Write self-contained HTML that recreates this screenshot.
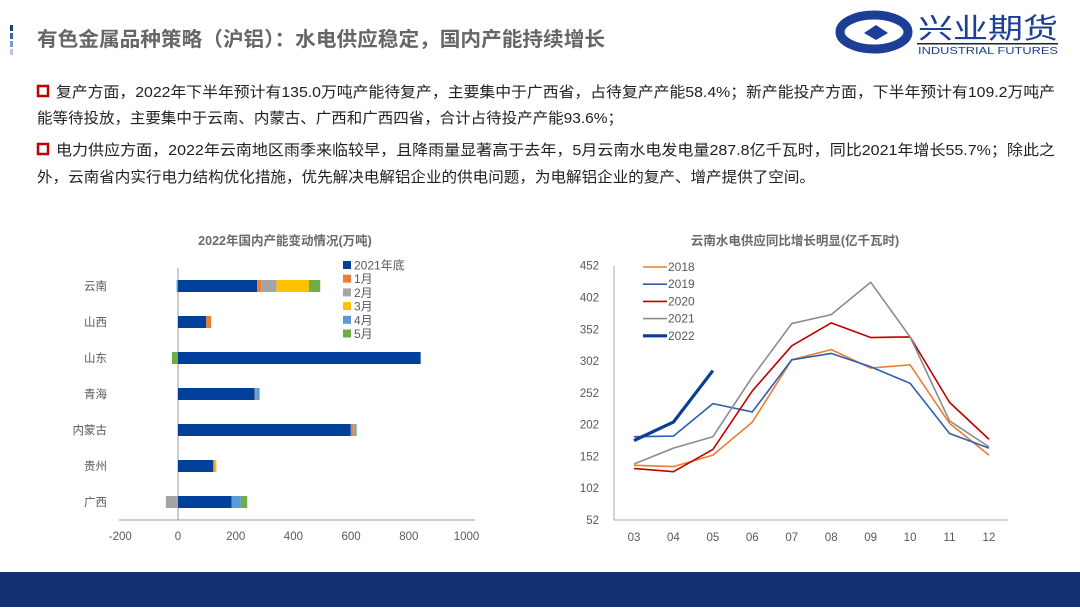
<!DOCTYPE html>
<html><head><meta charset="utf-8">
<style>
html,body{margin:0;padding:0;background:#fff;}
body{width:1080px;height:607px;overflow:hidden;position:relative;font-family:"Liberation Sans","Noto Sans CJK SC",sans-serif;}
svg text{font-family:"Liberation Sans","Noto Sans CJK SC",sans-serif;}
</style></head>
<body>
<svg width="1080" height="607" viewBox="0 0 1080 607" xmlns="http://www.w3.org/2000/svg">
  <g>
    <rect x="10" y="25" width="3" height="6" fill="#1f3d7a"/>
    <rect x="10" y="33" width="3" height="6" fill="#3f62a8"/>
    <rect x="10" y="41" width="3" height="6" fill="#7b98cf"/>
    <rect x="10" y="49" width="3" height="6" fill="#b8c8e8"/>
  </g>
  <text x="37" y="46" font-size="20" font-weight="bold" fill="#666" textLength="568" lengthAdjust="spacingAndGlyphs">有色金属品种策略（沪铝）：水电供应稳定，国内产能持续增长</text>
  <g>
    <ellipse cx="874" cy="32" rx="34" ry="17" fill="none" stroke="#1c3f95" stroke-width="9"/>
    <path d="M864 33 L876 25 L888 33 L876 40 Z" fill="#1c3f95"/>
    <text x="918" y="38" font-size="28" fill="#1c3f95" font-family="Liberation Serif,Noto Serif CJK SC,serif" textLength="140" lengthAdjust="spacingAndGlyphs">兴业期货</text>
    <rect x="917" y="43" width="141" height="1.5" fill="#222"/>
    <text x="918" y="54" font-size="10.5" fill="#1c3f95" font-family="Liberation Serif,serif" textLength="140" lengthAdjust="spacingAndGlyphs">INDUSTRIAL FUTURES</text>
  </g>
  <g font-size="15" fill="#222">
    <rect x="38" y="86" width="10" height="10" fill="none" stroke="#c00000" stroke-width="2.5"/>
    <text x="56" y="97" textLength="999" lengthAdjust="spacingAndGlyphs">复产方面，2022年下半年预计有135.0万吨产能待复产，主要集中于广西省，占待复产产能58.4%；新产能投产方面，下半年预计有109.2万吨产</text>
    <text x="37" y="123" textLength="586" lengthAdjust="spacingAndGlyphs">能等待投放，主要集中于云南、内蒙古、广西和广西四省，合计占待投产产能93.6%；</text>
    <rect x="38" y="144" width="10" height="10" fill="none" stroke="#c00000" stroke-width="2.5"/>
    <text x="56" y="155" textLength="999" lengthAdjust="spacingAndGlyphs">电力供应方面，2022年云南地区雨季来临较早，且降雨量显著高于去年，5月云南水电发电量287.8亿千瓦时，同比2021年增长55.7%；除此之</text>
    <text x="37" y="182" textLength="778" lengthAdjust="spacingAndGlyphs">外，云南省内实行电力结构优化措施，优先解决电解铝企业的供电问题，为电解铝企业的复产、增产提供了空间。</text>
  </g>
  <g id="left"></g>
  <g id="right"></g>
  <rect x="0" y="572" width="1080" height="35" fill="#133273"/>
</svg>
<script>
const NS='http://www.w3.org/2000/svg';
function mk(parent,tag,attrs,txt){const e=document.createElementNS(NS,tag);for(const k in attrs)e.setAttribute(k,attrs[k]);if(txt!==undefined)e.textContent=txt;parent.appendChild(e);return e;}

// ---- Left chart data ----
const provinces=['云南','山西','山东','青海','内蒙古','贵州','广西'];
const barSeries=['2021年底','1月','2月','3月','4月','5月'];
const barColors=['#003f9a','#ed7d31','#a5a5a5','#ffc000','#5b9bd5','#70ad47'];
const v2021=[274,98,841,266,599,122,186];
const vJan=[15,17,0,5,8,5,0];
const vFeb=[53,0,0,0,4,0,-42];
const vMar=[112,0,0,0,0,6,0];
const vApr=[-5,0,0,10,5,0,32];
const vMay=[39,0,-21,2,3,0,22];
const xTicks=[-200,0,200,400,600,800,1000];

// ---- Right chart data ----
const months=['03','04','05','06','07','08','09','10','11','12'];
const years=['2018','2019','2020','2021','2022'];
const s2018=[138,136,154,206,304,320,291,296,204,154];
const s2019=[183,184,235,222,304,314,293,267,188,165];
const s2020=[133,128,163,255,326,362,339,340,237,179];
const s2021=[140,165,183,277,361,375,426,340,208,167];
const s2022=[177,206,287];
const yTicks=[52,102,152,202,252,302,352,402,452];
const lineColors=['#ed7d31','#2e5fb0','#c00000','#8c8c8c','#0b3d91'];

// Left chart
(function(){
  const g=document.getElementById('left');
  const x=v=>178+(v)*0.2885;
  const y0=286, step=36, bh=12;
  mk(g,'text',{x:285,y:245,'font-size':12.5,'font-weight':'bold','text-anchor':'middle',fill:'#6a6a6a'},'2022年国内产能变动情况(万吨)');
  const ax=mk(g,'line',{x1:119,y1:520,x2:475,y2:520,stroke:'#999'});
  
  mk(g,'line',{x1:x(0),y1:268,x2:x(0),y2:520,stroke:'#999'});
  xTicks.forEach(t=>{const e=mk(g,'text',{x:x(t),y:540,'font-size':11.5,'text-anchor':'middle',fill:'#595959'},String(t));
    });
  const all=[v2021,vJan,vFeb,vMar,vApr,vMay];
  provinces.forEach((p,i)=>{
    const cy=y0+i*step;
    const l=mk(g,'text',{x:107,y:cy+4,'font-size':11.5,'text-anchor':'end',fill:'#595959'},p);
    
    let pos=0,neg=0;
    all.forEach((arr,s)=>{const v=arr[i];if(!v)return;let a,b;
      if(v>0){a=pos;b=pos+v;pos=b;}else{a=neg+v;b=neg;neg=a;}
      const r=mk(g,'rect',{x:x(a),y:cy-bh/2,width:Math.max(0.5,x(b)-x(a)),height:bh,fill:barColors[s]});
      });
  });
  barSeries.forEach((s,i)=>{const ly=261+i*13.7;
    const le=mk(g,'g',{});
    mk(le,'rect',{x:343,y:ly,width:8,height:8,fill:barColors[i]});
    mk(le,'text',{x:354,y:ly+8.5,'font-size':12,fill:'#595959'},s);});
})();

// Right chart
(function(){
  const g=document.getElementById('right');
  const x=i=>634+i*39.44;
  const y=v=>520-(v-52)*0.6358;
  mk(g,'text',{x:795,y:245,'font-size':12.5,'font-weight':'bold','text-anchor':'middle',fill:'#6a6a6a'},'云南水电供应同比增长明显(亿千瓦时)');
  mk(g,'line',{x1:614,y1:266,x2:614,y2:520,stroke:'#aaa'});
  const ax=mk(g,'line',{x1:614,y1:520,x2:1008,y2:520,stroke:'#aaa'});
  
  yTicks.forEach(t=>{const e=mk(g,'text',{x:599,y:y(t)+4,'font-size':11.5,'text-anchor':'end',fill:'#595959'},String(t));
    });
  months.forEach((m,i)=>{const e=mk(g,'text',{x:x(i),y:541,'font-size':11.5,'text-anchor':'middle',fill:'#595959'},m);
    });
  const series=[s2018,s2019,s2020,s2021,s2022];
  series.forEach((arr,k)=>{
    const pts=arr.map((v,i)=>x(i)+','+y(v)).join(' ');
    const pl=mk(g,'polyline',{points:pts,fill:'none',stroke:lineColors[k],'stroke-width':k===4?3.2:1.6,'stroke-linejoin':'round'});
    
    const ly=267+k*17.2;
    const le=mk(g,'g',{});
    mk(le,'line',{x1:643,y1:ly,x2:667,y2:ly,stroke:lineColors[k],'stroke-width':k===4?3.2:1.6});
    mk(le,'text',{x:668,y:ly+4,'font-size':12,fill:'#595959'},years[k]);
  });
})();
</script>
</body></html>
